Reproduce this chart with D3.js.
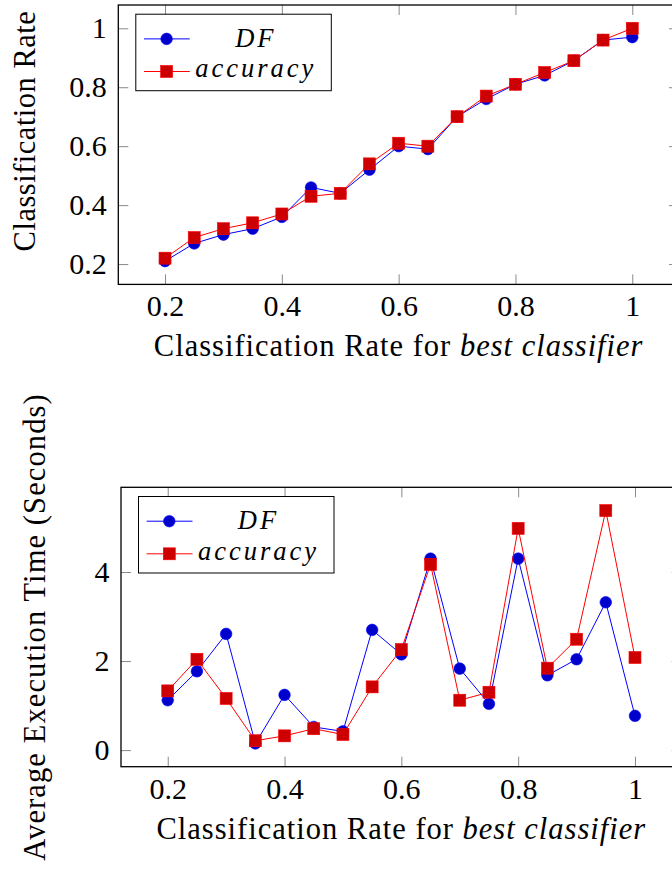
<!DOCTYPE html>
<html>
<head>
<meta charset="utf-8">
<script src="https://cdn.jsdelivr.net/npm/d3@7"></script>
<style>
  body { margin: 0; background: #fff; }
  svg { display: block; font-family: "Liberation Serif", serif; }
</style>
</head>
<body>
<div id="chart"></div>
<script>
// x values shared by both panels
const rates = [0.2, 0.25, 0.3, 0.35, 0.4, 0.45, 0.5, 0.55, 0.6, 0.65, 0.7, 0.75, 0.8, 0.85, 0.9, 0.95, 1.0]

// top panel: classification rate
const dfRate  = [0.21, 0.27, 0.30, 0.32, 0.36, 0.46, 0.44, 0.52, 0.60, 0.59, 0.70, 0.76, 0.81, 0.84, 0.89, 0.96, 0.97]
const accRate = [0.22, 0.29, 0.32, 0.34, 0.37, 0.43, 0.44, 0.54, 0.61, 0.60, 0.70, 0.77, 0.81, 0.85, 0.89, 0.96, 1.00]

// bottom panel: average execution time (seconds)
const dfTime  = [1.12, 1.77, 2.61, 0.15, 1.24, 0.52, 0.42, 2.70, 2.15, 4.30, 1.83, 1.04, 4.30, 1.68, 2.04, 3.32, 0.77]
const accTime = [1.33, 2.04, 1.16, 0.21, 0.32, 0.48, 0.35, 1.42, 2.26, 4.17, 1.12, 1.30, 4.98, 1.84, 2.49, 5.38, 2.08]

const xTicks = [0.2, 0.4, 0.6, 0.8, 1]
const rateTicks = [0.2, 0.4, 0.6, 0.8, 1]
const timeTicks = [0, 2, 4]

const seriesNames = ['DF', 'accuracy']

const width = 672
const height = 869

const svg = d3.select('#chart')
  .append('svg')
  .attr('width', width)
  .attr('height', height)

// pgfplots-style 10% enlargement of the data range
const enlarge = (vals) => {
  const [lo, hi] = d3.extent(vals)
  const pad = (hi - lo) * 0.1
  return [lo - pad, hi + pad]
}

const drawPanel = (p) => {
  const w = 560.7
  const h = 279.4
  const ctr = svg.append('g')
    .attr('transform', `translate(${p.left}, ${p.top})`)

  const xScale = d3.scaleLinear()
    .domain(enlarge(rates))
    .range([0, w])

  const yScale = d3.scaleLinear()
    .domain(enlarge(p.a.concat(p.b)))
    .range([h, 0])

  const fmt = d => String(d)

  ctr.append('g')
    .attr('transform', `translate(0, ${h})`)
    .call(d3.axisBottom(xScale).tickValues(xTicks).tickFormat(fmt)
      .tickSizeInner(-10).tickSizeOuter(0).tickPadding(10.7))
  ctr.append('g')
    .call(d3.axisTop(xScale).tickValues(xTicks).tickFormat('')
      .tickSizeInner(-10).tickSizeOuter(0))
  ctr.append('g')
    .call(d3.axisLeft(yScale).tickValues(p.yTicks).tickFormat(fmt)
      .tickSizeInner(-10).tickSizeOuter(0).tickPadding(11.5))
  ctr.append('g')
    .attr('transform', `translate(${w}, 0)`)
    .call(d3.axisRight(yScale).tickValues(p.yTicks).tickFormat('')
      .tickSizeInner(-10).tickSizeOuter(0))

  ctr.selectAll('.domain').remove()
  ctr.selectAll('.tick line').attr('stroke', '#8a8a8a').attr('stroke-width', 1)
  ctr.selectAll('.tick text')
    .attr('fill', '#000')
    .style('font-size', '30px')
    .style('font-family', '"Liberation Serif", serif')

  ctr.append('rect')
    .attr('width', w)
    .attr('height', h)
    .attr('fill', 'none')
    .attr('stroke', '#000')
    .attr('stroke-width', 1.3)

  // x label
  const xl = ctr.append('text')
    .attr('x', w / 2)
    .attr('y', h + 72)
    .attr('text-anchor', 'middle')
    .style('font-size', '30.5px')
    .style('letter-spacing', '1px')
  xl.append('tspan').text('Classification Rate for ')
  xl.append('tspan').attr('font-style', 'italic').text('best classifier')

  // y label
  ctr.append('text')
    .attr('transform', `translate(${p.yLabelX}, ${p.yLabelY}) rotate(-90)`)
    .attr('text-anchor', 'middle')
    .style('font-size', '30.5px')
    .style('letter-spacing', p.yLabelSpacing)
    .text(p.yLabel)

  const line = d3.line()
    .x((d, i) => xScale(rates[i]))
    .y(d => yScale(d))

  // DF series
  ctr.append('path')
    .datum(p.a)
    .attr('d', line)
    .attr('fill', 'none')
    .attr('stroke', 'blue')
    .attr('stroke-width', 1)
  ctr.append('g').selectAll('circle')
    .data(p.a)
    .join('circle')
    .attr('cx', (d, i) => xScale(rates[i]))
    .attr('cy', d => yScale(d))
    .attr('r', 5.8)
    .attr('fill', '#0000cc')
    .attr('stroke', 'blue')
    .attr('stroke-width', 0.6)

  // accuracy series
  ctr.append('path')
    .datum(p.b)
    .attr('d', line)
    .attr('fill', 'none')
    .attr('stroke', 'red')
    .attr('stroke-width', 1)
  ctr.append('g').selectAll('rect')
    .data(p.b)
    .join('rect')
    .attr('x', (d, i) => xScale(rates[i]) - 6)
    .attr('y', d => yScale(d) - 6)
    .attr('width', 12)
    .attr('height', 12)
    .attr('fill', '#cc0000')
    .attr('stroke', 'red')
    .attr('stroke-width', 0.6)

  // legend
  const lg = ctr.append('g').attr('transform', 'translate(17.5, 9.2)')
  lg.append('rect')
    .attr('width', 195.5)
    .attr('height', 76.5)
    .attr('fill', '#fff')
    .attr('stroke', '#000')
    .attr('stroke-width', 1)

  const rows = [24.7, 57.3]
  seriesNames.forEach((name, i) => {
    const y = rows[i]
    const col = i === 0 ? 'blue' : 'red'
    const fill = i === 0 ? '#0000cc' : '#cc0000'
    lg.append('line')
      .attr('x1', 8.2).attr('x2', 54)
      .attr('y1', y).attr('y2', y)
      .attr('stroke', col)
      .attr('stroke-width', 1)
    if (i === 0) {
      lg.append('circle')
        .attr('cx', 30.8).attr('cy', y).attr('r', 5.8)
        .attr('fill', fill).attr('stroke', col).attr('stroke-width', 0.6)
    } else {
      lg.append('rect')
        .attr('x', 24.8).attr('y', y - 6).attr('width', 12).attr('height', 12)
        .attr('fill', fill).attr('stroke', col).attr('stroke-width', 0.6)
    }
    lg.append('text')
      .attr('x', 120)
      .attr('y', y + (i === 0 ? 8 : 6))
      .attr('text-anchor', 'middle')
      .attr('font-style', 'italic')
      .style('font-size', '26.5px')
      .style('letter-spacing', '3px')
      .text(name)
  })
}

drawPanel({
  left: 118.3, top: 5,
  a: dfRate, b: accRate,
  yTicks: rateTicks,
  yLabel: 'Classification Rate',
  yLabelX: -83, yLabelY: 126,
  yLabelSpacing: '0.5px'
})

drawPanel({
  left: 121, top: 487.3,
  a: dfTime, b: accTime,
  yTicks: timeTicks,
  yLabel: 'Average Execution Time (Seconds)',
  yLabelX: -76, yLabelY: 139.7,
  yLabelSpacing: '1.1px'
})
</script>
</body>
</html>
